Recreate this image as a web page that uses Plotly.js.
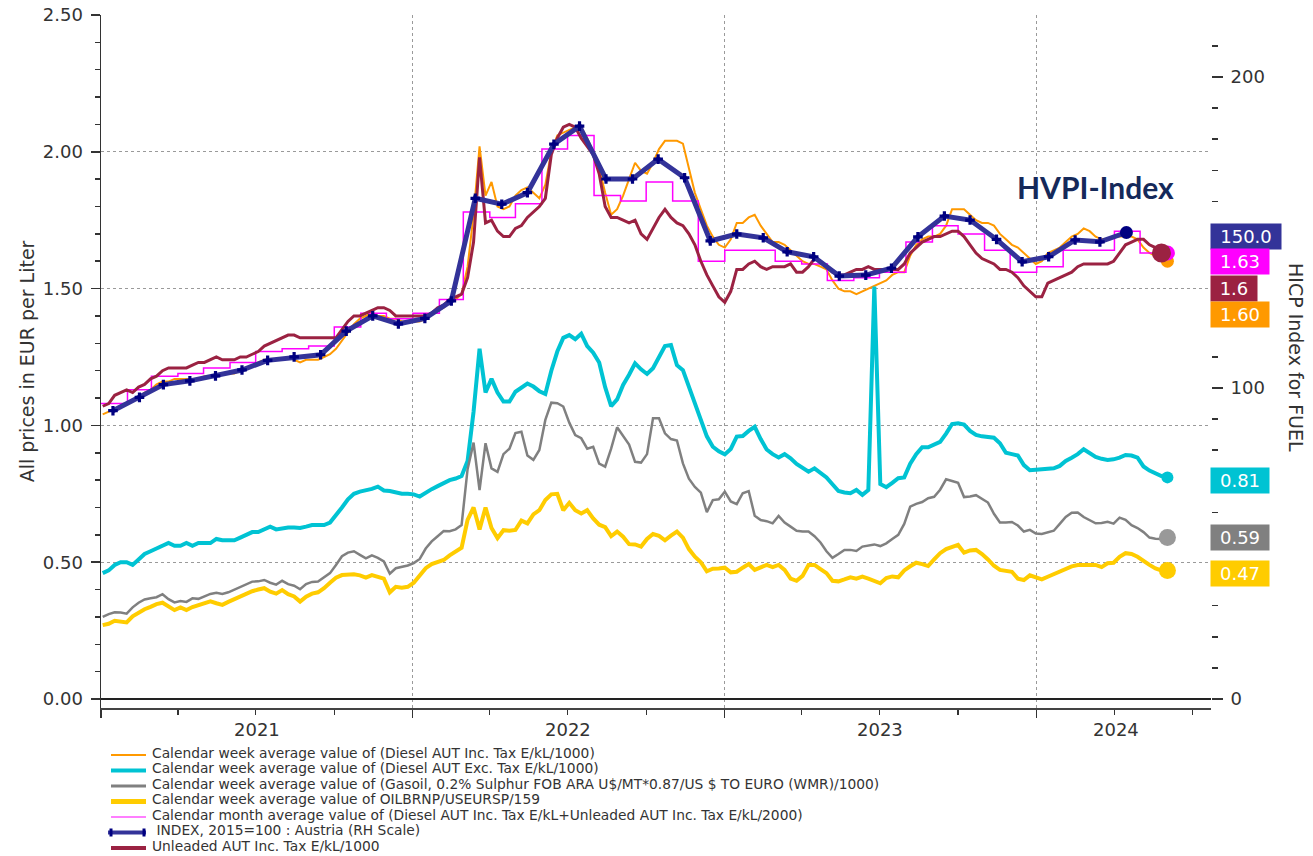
<!DOCTYPE html>
<html><head><meta charset="utf-8">
<script src="https://cdn.plot.ly/plotly-3.0.1.min.js"></script>
<style>html,body{margin:0;padding:0;background:#fff;}#chart{width:1313px;height:856px;}</style>
</head><body><div id="chart"></div>
<script>
// ---------- DATA ----------
const weekStart = '2021-01-03';   // first calendar week shown (weekly series step 7 days)

const dieselInc = [
1.04,1.05,1.06,1.07,1.08,1.09,1.10,1.12,1.13,1.15,
1.16,1.16,1.17,1.17,1.17,1.17,1.17,1.18,1.18,1.18,
1.19,1.19,1.19,1.20,1.21,1.22,1.23,1.24,1.24,1.24,
1.24,1.25,1.24,1.23,1.24,1.24,1.24,1.25,1.26,1.28,
1.31,1.34,1.37,1.39,1.40,1.41,1.40,1.40,1.39,1.39,
1.38,1.38,1.38,1.38,1.39,1.41,1.42,1.43,1.45,1.46,
1.48,1.58,1.77,2.02,1.84,1.89,1.80,1.79,1.80,1.84,
1.86,1.87,1.85,1.83,1.88,2.00,2.06,2.07,2.08,2.09,
2.09,2.05,2.00,1.94,1.85,1.77,1.79,1.84,1.90,1.96,
1.93,1.92,1.96,2.01,2.04,2.04,2.04,2.03,1.94,1.85,
1.79,1.73,1.69,1.66,1.65,1.68,1.74,1.74,1.76,1.77,
1.73,1.70,1.67,1.67,1.66,1.64,1.62,1.60,1.59,1.59,
1.58,1.57,1.53,1.50,1.49,1.49,1.48,1.49,1.50,1.51,
1.52,1.53,1.55,1.56,1.56,1.62,1.66,1.68,1.69,1.69,
1.70,1.73,1.79,1.79,1.79,1.77,1.75,1.74,1.74,1.73,
1.70,1.68,1.66,1.65,1.63,1.61,1.59,1.60,1.63,1.64,
1.65,1.67,1.69,1.70,1.72,1.71,1.69,1.68,1.68,1.69,
1.69,1.69,1.69,1.68,1.65,1.63,1.62,1.61,1.60];

const dieselExc = [
0.46,0.47,0.49,0.50,0.50,0.49,0.51,0.53,0.54,0.55,
0.56,0.57,0.56,0.56,0.57,0.56,0.57,0.57,0.57,0.585,
0.58,0.58,0.58,0.59,0.60,0.61,0.61,0.62,0.63,0.62,
0.625,0.627,0.627,0.625,0.63,0.636,0.636,0.636,0.645,0.67,
0.70,0.73,0.75,0.758,0.762,0.768,0.776,0.762,0.76,0.755,
0.75,0.75,0.748,0.74,0.755,0.767,0.778,0.79,0.80,0.806,
0.815,0.87,1.05,1.28,1.12,1.17,1.12,1.087,1.087,1.123,
1.14,1.153,1.142,1.125,1.115,1.20,1.27,1.32,1.33,1.315,
1.335,1.29,1.266,1.23,1.14,1.07,1.095,1.148,1.185,1.227,
1.205,1.188,1.209,1.25,1.29,1.294,1.22,1.202,1.14,1.08,
1.02,0.96,0.922,0.905,0.894,0.914,0.959,0.961,0.98,0.995,
0.95,0.912,0.895,0.883,0.895,0.88,0.859,0.845,0.831,0.843,
0.826,0.81,0.785,0.76,0.755,0.752,0.764,0.746,0.764,1.507,
0.786,0.774,0.79,0.807,0.81,0.86,0.895,0.92,0.92,0.93,
0.94,0.97,1.005,1.008,1.003,0.98,0.965,0.96,0.959,0.955,
0.935,0.90,0.895,0.89,0.855,0.836,0.838,0.84,0.842,0.843,
0.852,0.87,0.882,0.895,0.913,0.898,0.885,0.878,0.874,0.876,
0.882,0.892,0.89,0.882,0.85,0.835,0.823,0.815,0.81];

const gasoil = [
0.30,0.31,0.317,0.316,0.312,0.335,0.352,0.364,0.368,0.372,
0.383,0.365,0.353,0.358,0.355,0.368,0.366,0.375,0.384,0.388,
0.384,0.39,0.40,0.41,0.422,0.429,0.43,0.435,0.425,0.418,
0.432,0.42,0.414,0.401,0.42,0.428,0.429,0.445,0.46,0.49,
0.522,0.535,0.54,0.527,0.514,0.525,0.516,0.503,0.458,0.478,
0.482,0.488,0.497,0.512,0.55,0.576,0.595,0.614,0.613,0.62,
0.636,0.84,0.937,0.764,0.935,0.843,0.83,0.895,0.915,0.972,
0.977,0.89,0.874,0.91,1.02,1.083,1.081,1.069,1.01,0.965,
0.953,0.915,0.922,0.86,0.849,0.915,0.993,0.959,0.93,0.867,
0.864,0.895,1.026,1.026,0.971,0.95,0.945,0.861,0.805,0.775,
0.754,0.683,0.727,0.73,0.758,0.722,0.712,0.752,0.76,0.67,
0.654,0.65,0.642,0.669,0.645,0.63,0.615,0.612,0.612,0.595,
0.572,0.54,0.516,0.53,0.545,0.545,0.541,0.557,0.562,0.565,
0.559,0.569,0.585,0.60,0.64,0.703,0.713,0.72,0.734,0.739,
0.765,0.803,0.797,0.79,0.738,0.74,0.745,0.73,0.718,0.677,
0.645,0.645,0.647,0.634,0.612,0.618,0.605,0.603,0.61,0.615,
0.64,0.665,0.681,0.682,0.665,0.652,0.642,0.643,0.648,0.641,
0.663,0.655,0.635,0.625,0.61,0.59,0.586,0.585,0.59];

const brent = [
0.27,0.275,0.286,0.283,0.28,0.302,0.316,0.328,0.337,0.347,
0.352,0.338,0.325,0.335,0.325,0.336,0.343,0.352,0.357,0.35,
0.344,0.355,0.365,0.372,0.386,0.394,0.40,0.405,0.392,0.385,
0.398,0.383,0.375,0.356,0.374,0.385,0.39,0.405,0.425,0.443,
0.453,0.455,0.456,0.452,0.444,0.453,0.445,0.44,0.39,0.41,
0.407,0.41,0.425,0.452,0.478,0.493,0.502,0.508,0.525,0.54,
0.553,0.655,0.70,0.62,0.70,0.625,0.588,0.617,0.615,0.618,
0.652,0.642,0.675,0.69,0.727,0.748,0.75,0.69,0.717,0.69,
0.678,0.69,0.66,0.637,0.628,0.595,0.612,0.593,0.566,0.565,
0.557,0.585,0.603,0.596,0.58,0.597,0.612,0.59,0.548,0.52,
0.50,0.467,0.476,0.477,0.48,0.463,0.465,0.48,0.493,0.472,
0.482,0.49,0.482,0.49,0.472,0.44,0.432,0.45,0.49,0.49,
0.475,0.46,0.432,0.43,0.437,0.445,0.44,0.447,0.44,0.433,
0.423,0.442,0.448,0.445,0.47,0.485,0.498,0.493,0.486,0.51,
0.533,0.548,0.555,0.563,0.535,0.543,0.545,0.53,0.51,0.487,
0.472,0.468,0.465,0.44,0.435,0.452,0.444,0.437,0.447,0.457,
0.468,0.475,0.485,0.49,0.49,0.49,0.49,0.482,0.496,0.498,
0.52,0.533,0.53,0.52,0.503,0.49,0.477,0.47,0.47];

const unleaded = [
1.07,1.08,1.11,1.12,1.13,1.12,1.14,1.15,1.17,1.18,
1.20,1.21,1.21,1.21,1.21,1.22,1.23,1.23,1.24,1.25,
1.24,1.24,1.24,1.25,1.25,1.26,1.27,1.29,1.30,1.31,
1.32,1.33,1.33,1.32,1.32,1.32,1.32,1.32,1.32,1.32,
1.35,1.38,1.40,1.40,1.41,1.42,1.43,1.43,1.42,1.40,
1.40,1.40,1.40,1.40,1.40,1.41,1.43,1.44,1.46,1.47,
1.48,1.54,1.67,1.98,1.74,1.75,1.71,1.69,1.69,1.72,
1.73,1.76,1.78,1.80,1.83,1.99,2.05,2.09,2.10,2.09,
2.05,2.02,1.99,1.92,1.80,1.76,1.76,1.75,1.74,1.75,
1.70,1.68,1.72,1.76,1.79,1.76,1.74,1.73,1.70,1.66,
1.60,1.55,1.51,1.47,1.45,1.49,1.57,1.57,1.59,1.60,
1.58,1.57,1.58,1.58,1.58,1.59,1.56,1.56,1.58,1.61,
1.60,1.58,1.56,1.55,1.55,1.56,1.57,1.57,1.58,1.57,
1.57,1.57,1.57,1.57,1.59,1.63,1.65,1.67,1.68,1.69,
1.69,1.70,1.71,1.71,1.69,1.66,1.63,1.61,1.60,1.59,
1.57,1.57,1.56,1.54,1.51,1.49,1.47,1.47,1.52,1.53,
1.54,1.55,1.56,1.58,1.59,1.59,1.59,1.59,1.59,1.60,
1.63,1.66,1.67,1.68,1.68,1.66,1.65,1.63];

const avgMonths = [
'2021-01-01','2021-02-01','2021-03-01','2021-04-01','2021-05-01','2021-06-01','2021-07-01','2021-08-01','2021-09-01','2021-10-01','2021-11-01','2021-12-01',
'2022-01-01','2022-02-01','2022-03-01','2022-04-01','2022-05-01','2022-06-01','2022-07-01','2022-08-01','2022-09-01','2022-10-01','2022-11-01','2022-12-01',
'2023-01-01','2023-02-01','2023-03-01','2023-04-01','2023-05-01','2023-06-01','2023-07-01','2023-08-01','2023-09-01','2023-10-01','2023-11-01','2023-12-01',
'2024-01-01','2024-02-01','2024-03-01','2024-04-01','2024-05-01'];
const avgValues = [
1.08,1.13,1.18,1.19,1.21,1.23,1.27,1.28,1.29,1.36,1.41,1.39,
1.41,1.46,1.78,1.76,1.81,2.01,2.06,1.84,1.82,1.89,1.82,1.60,
1.64,1.64,1.60,1.59,1.53,1.54,1.56,1.67,1.73,1.70,1.64,1.56,
1.58,1.64,1.64,1.71,1.63];

const indexMonths = [
'2021-01-15','2021-02-15','2021-03-15','2021-04-15','2021-05-15','2021-06-15','2021-07-15','2021-08-15','2021-09-15','2021-10-15','2021-11-15','2021-12-15',
'2022-01-15','2022-02-15','2022-03-15','2022-04-15','2022-05-15','2022-06-15','2022-07-15','2022-08-15','2022-09-15','2022-10-15','2022-11-15','2022-12-15',
'2023-01-15','2023-02-15','2023-03-15','2023-04-15','2023-05-15','2023-06-15','2023-07-15','2023-08-15','2023-09-15','2023-10-15','2023-11-15','2023-12-15',
'2024-01-15','2024-02-15','2024-03-15','2024-04-15'];
const indexValues = [
92.7,97.0,101.1,102.3,103.9,105.8,108.9,110.0,110.7,118.3,123.2,120.6,
122.4,128.0,161.0,159.1,162.8,178.4,184.2,167.2,167.2,173.6,167.6,147.3,
149.5,148.3,143.8,142.2,136.0,136.3,138.5,148.6,155.3,154.0,147.8,140.6,
142.2,147.6,147.0,150.0];

const yearLabels = ['2021','2022','2023','2024'];
const yearLabelDates = ['2021-07-02','2022-07-02','2023-07-02','2024-04-03'];

const names = {
  dieselInc: 'Calendar week average value of (Diesel AUT Inc. Tax E/kL/1000)',
  dieselExc: 'Calendar week average value of (Diesel AUT Exc. Tax E/kL/1000)',
  gasoil: 'Calendar week average value of (Gasoil, 0.2% Sulphur FOB ARA U$/MT*0.87/US $ TO EURO (WMR)/1000)',
  brent: 'Calendar week average value of OILBRNP/USEURSP/159',
  avg: 'Calendar month average value of (Diesel AUT Inc. Tax E/kL+Unleaded AUT Inc. Tax E/kL/2000)',
  index: ' INDEX, 2015=100 : Austria (RH Scale)',
  unleaded: 'Unleaded AUT Inc. Tax E/kL/1000'
};

// ---------- STYLE ----------
const C = {
  orange:'#FF9900', cyan:'#00C3D3', gray:'#808080', gold:'#FFCC00',
  magenta:'#FF00FF', index:'#333399', indexMk:'#000080', maroon:'#9B2242'
};
const FONT = 'DejaVu Sans';

function weekly(n){
  const out=[]; const t0=Date.parse(weekStart+'T00:00:00Z');
  for(let i=0;i<n;i++){ out.push(new Date(t0+i*7*86400000).toISOString().slice(0,10)); }
  return out;
}
const wk = weekly(dieselInc.length);
const wkU = wk.slice(0, unleaded.length);
const last = a => a[a.length-1];

const avgX = avgMonths.concat([last(wk)]);
const avgY = avgValues.concat([last(avgValues)]);

const traces = [
  {x:wk, y:dieselInc, name:names.dieselInc, mode:'lines', line:{color:C.orange,width:2}},
  {x:wk, y:dieselExc, name:names.dieselExc, mode:'lines', line:{color:C.cyan,width:4}},
  {x:wk, y:gasoil, name:names.gasoil, mode:'lines', line:{color:C.gray,width:2.5}},
  {x:wk, y:brent, name:names.brent, mode:'lines', line:{color:C.gold,width:4}},
  {x:avgX, y:avgY, name:names.avg, mode:'lines', line:{color:C.magenta,width:1.5,shape:'hv'}},
  {x:wkU, y:unleaded, name:names.unleaded, mode:'lines', line:{color:C.maroon,width:3}},
  {x:indexMonths, y:indexValues, name:names.index, yaxis:'y2', mode:'lines+markers',
   line:{color:C.index,width:5}, marker:{symbol:'cross',size:8,color:C.indexMk}},
  // end dots
  {x:[last(wk)], y:[last(dieselInc)], mode:'markers', marker:{color:C.orange,size:13}},
  {x:[last(wk)], y:[last(dieselExc)], mode:'markers', marker:{color:C.cyan,size:12}},
  {x:[last(wk)], y:[last(gasoil)], mode:'markers', marker:{color:'#999999',size:17}},
  {x:[last(wk)], y:[last(brent)], mode:'markers', marker:{color:C.gold,size:17}},
  {x:[last(avgX)], y:[last(avgY)], mode:'markers', marker:{color:C.magenta,size:15}},
  {x:[last(wkU)], y:[last(unleaded)], mode:'markers', marker:{color:C.maroon,size:19}},
  {x:[last(indexMonths)], y:[last(indexValues)], yaxis:'y2', mode:'markers', marker:{color:C.indexMk,size:13}}
];
traces.forEach(t=>{t.showlegend=false; t.hoverinfo='skip';});

// ---------- LAYOUT HELPERS (pixel -> paper) ----------
const PL=101, PR=1211, PT=15, PB=708;
const px2x = p => (p-PL)/(PR-PL);
const py2y = p => (PB-p)/(PB-PT);

const annotations = [];
const shapes = [];

// year labels
yearLabels.forEach((t,i)=>annotations.push({
  x:yearLabelDates[i], xref:'x', y:py2y(730), yref:'paper', text:t, showarrow:false,
  font:{family:FONT,size:18,color:'#333'}, xanchor:'center', yanchor:'middle'}));

// right-hand value boxes
const boxes = [
  {txt:last(indexValues).toFixed(1), col:C.index, py:236, w:70},
  {txt:last(avgY).toFixed(2), col:C.magenta, py:261, w:58},
  {txt:last(unleaded).toFixed(1), col:C.maroon, py:288, w:46},
  {txt:last(dieselInc).toFixed(2), col:C.orange, py:314, w:58},
  {txt:last(dieselExc).toFixed(2), col:C.cyan, py:481, w:58},
  {txt:last(gasoil).toFixed(2), col:C.gray, py:537, w:58},
  {txt:last(brent).toFixed(2), col:C.gold, py:573, w:58}
];
boxes.forEach(b=>annotations.push({
  x:px2x(1210), xref:'paper', y:py2y(b.py), yref:'paper', xanchor:'left', yanchor:'middle',
  text:b.txt, showarrow:false, bgcolor:b.col, borderpad:0, width:b.w, height:25, align:'center',
  font:{family:FONT,size:18,color:'#ffffff'}}));

// HVPI-Index label
annotations.push({x:px2x(1095), xref:'paper', y:py2y(187), yref:'paper', text:'<b>HVPI-Index</b>',
  showarrow:false, font:{family:'Lato',size:30,color:'#15295A'}, xanchor:'center', yanchor:'middle'});

// right axis title
annotations.push({x:px2x(1296), xref:'paper', y:py2y(357), yref:'paper', text:'HICP Index for FUEL',
  textangle:90, showarrow:false, font:{family:FONT,size:19,color:'#333'}, xanchor:'center', yanchor:'middle'});

// manual legend
const legendItems = [
  {name:names.dieselInc, col:C.orange, w:2},
  {name:names.dieselExc, col:C.cyan, w:4},
  {name:names.gasoil, col:C.gray, w:3},
  {name:names.brent, col:C.gold, w:5},
  {name:names.avg, col:C.magenta, w:1.2},
  {name:names.index, col:C.index, w:4, cross:true},
  {name:names.unleaded, col:C.maroon, w:4}
];
legendItems.forEach((it,k)=>{
  const cy = 753 + k*15.5;
  annotations.push({x:px2x(150), xref:'paper', y:py2y(cy), yref:'paper', xanchor:'left', yanchor:'middle',
    text:it.name, showarrow:false, font:{family:FONT,size:13.8,color:'#333'}});
  shapes.push({type:'line', xref:'paper', yref:'paper', x0:px2x(it.cross?108:111), x1:px2x(146),
    y0:py2y(cy+2), y1:py2y(cy+2), line:{color:it.col,width:it.w}});
  if(it.cross){
    [111,144].forEach(cx=>shapes.push({type:'line', xref:'paper', yref:'paper', x0:px2x(cx), x1:px2x(cx),
      y0:py2y(cy-2), y1:py2y(cy+6), line:{color:C.indexMk,width:3}}));
  }
});

const tickFont = {family:FONT,size:18,color:'#333'};
const layout = {
  width:1313, height:856, margin:{l:PL, r:1313-PR, t:PT, b:856-PB},
  paper_bgcolor:'#fff', plot_bgcolor:'#fff', showlegend:false,
  xaxis:{type:'date', range:['2021-01-01','2024-07-23'], tick0:'2021-01-01', dtick:'M12',
    ticks:'outside', ticklen:8, tickcolor:'#333', tickwidth:1.2, showticklabels:false,
    showline:true, linecolor:'#444', linewidth:1.5,
    showgrid:true, gridcolor:'#9a9a9a', griddash:'dot', gridwidth:1, zeroline:false,
    minor:{dtick:'M3', ticks:'outside', ticklen:5, tickcolor:'#333', showgrid:false}},
  yaxis:{range:[-0.0329,2.5], tick0:0, dtick:0.5, tickformat:'.2f', tickfont:tickFont,
    ticks:'outside', ticklen:9, tickcolor:'#333', tickwidth:1.5, ticklabelstandoff:4,
    showline:true, linecolor:'#333', linewidth:1.5,
    showgrid:true, gridcolor:'#9a9a9a', griddash:'dot', gridwidth:1,
    zeroline:true, zerolinecolor:'#222', zerolinewidth:2,
    minor:{dtick:0.1, ticks:'outside', ticklen:5, tickcolor:'#333', showgrid:false},
    title:{text:'All prices in EUR per Liter', font:{family:FONT,size:19,color:'#333'}, standoff:3}},
  yaxis2:{overlaying:'y', side:'right', range:[-2.894,219.94], tick0:0, dtick:100, tickfont:tickFont,
    ticks:'outside', ticklen:11, tickcolor:'#333', tickwidth:1.5, ticklabelstandoff:4,
    showline:false, showgrid:false, zeroline:false,
    minor:{dtick:10, ticks:'outside', ticklen:6, tickcolor:'#333', showgrid:false}},
  annotations:annotations, shapes:shapes
};

Plotly.newPlot('chart', traces, layout, {staticPlot:true, displayModeBar:false});
</script>
</body></html>
